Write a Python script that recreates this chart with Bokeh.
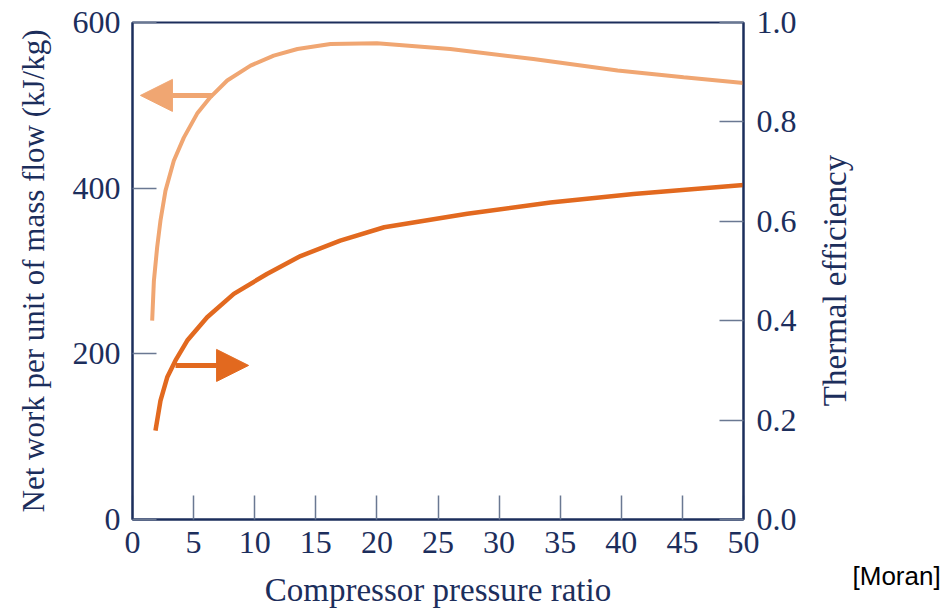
from bokeh.plotting import figure
from bokeh.models import (Range1d, LinearAxis, FixedTicker, PrintfTickFormatter,
                          Arrow, NormalHead)
from bokeh.core.properties import value
from bokeh.layouts import row
from bokeh.embed import file_html
from bokeh.resources import INLINE
import math

# ---- data ----
ratio_work = [1.61, 1.75, 2.02, 2.29, 2.70, 3.38, 4.20, 5.29, 6.38, 7.75, 9.66,
              11.56, 13.5, 16.2, 20.0, 26.0, 32.8, 39.7, 45.1, 50.0]
net_work = [240, 288, 329, 361, 397, 433, 461, 490, 510, 530, 548,
            560, 568, 574, 575, 568, 556, 542, 534, 527]

ratio_eff = [1.88, 2.29, 2.84, 3.52, 4.48, 6.11, 8.29, 11.0, 13.75, 17.0,
             20.6, 27.4, 34.2, 41.0, 50.0]
efficiency = [0.179, 0.239, 0.286, 0.320, 0.360, 0.407, 0.454, 0.494, 0.530, 0.561,
              0.588, 0.615, 0.638, 0.655, 0.673]

x_ticks = [0, 5, 10, 15, 20, 25, 30, 35, 40, 45, 50]
work_ticks = [0, 200, 400, 600]
eff_ticks = [0.0, 0.2, 0.4, 0.6, 0.8, 1.0]

x_title = "Compressor pressure ratio"
work_title = "Net work per unit of mass flow (kJ/kg)"
eff_title = "Thermal efficiency"
source_note = "[Moran]"

# annotation arrows (start on the curve, end at the tip)
work_arrow = dict(x_start=6.55, x_end=0.65, y=512)
eff_arrow = dict(x_start=3.52, x_end=9.5, y=0.31)

LIGHT = "#F0A672"
DARK = "#E2691F"
NAVY = "#1c2e5c"
TICK = "#6a7892"
SERIF = "Liberation Serif"

MAIN_W = 810
SIDE_W = 943 - MAIN_W
H = 611

p = figure(width=MAIN_W, height=H, output_backend="svg", toolbar_location=None,
           x_range=Range1d(0, 50), y_range=Range1d(0, 600),
           min_border_left=132, min_border_right=MAIN_W - 743, min_border_top=22,
           min_border_bottom=92)
p.extra_y_ranges = {"eff": Range1d(0, 1)}
p.frame_align = False

p.xgrid.visible = False
p.ygrid.visible = False
p.background_fill_color = "white"
p.border_fill_color = "white"
p.outline_line_color = NAVY
p.outline_line_width = 2

def style_axis(ax, label_size="33px"):
    ax.axis_line_color = NAVY
    ax.axis_line_width = 2
    ax.major_tick_in = 24
    ax.major_tick_out = 0
    ax.major_tick_line_color = TICK
    ax.major_tick_line_width = 1.5
    ax.minor_tick_line_color = None
    ax.major_label_text_font = SERIF
    ax.major_label_text_font_size = "32px"
    ax.major_label_text_color = NAVY
    ax.axis_label_text_font = SERIF
    ax.axis_label_text_font_size = label_size
    ax.axis_label_text_font_style = "normal"
    ax.axis_label_text_color = NAVY

xa = p.xaxis[0]
style_axis(xa)
xa.ticker = FixedTicker(ticks=x_ticks)
xa.axis_label = x_title
xa.major_label_standoff = 12
xa.axis_label_standoff = 16

ya = p.yaxis[0]
style_axis(ya, "31px")
ya.ticker = FixedTicker(ticks=work_ticks)
ya.axis_label = work_title
ya.major_label_standoff = 12
ya.axis_label_standoff = 19

ra = LinearAxis(y_range_name="eff")
style_axis(ra)
ra.ticker = FixedTicker(ticks=eff_ticks)
ra.formatter = PrintfTickFormatter(format="%.1f")
ra.major_label_standoff = 13
p.add_layout(ra, "right")

p.line(ratio_work, net_work, line_color=LIGHT, line_width=4)
p.line(ratio_eff, efficiency, line_color=DARK, line_width=4.5, y_range_name="eff")

p.add_layout(Arrow(end=NormalHead(size=32, fill_color=LIGHT, line_color=LIGHT),
                   x_start=work_arrow["x_start"], y_start=work_arrow["y"],
                   x_end=work_arrow["x_end"], y_end=work_arrow["y"],
                   line_color=LIGHT, line_width=5))
p.add_layout(Arrow(end=NormalHead(size=32, fill_color=DARK, line_color=DARK),
                   x_start=eff_arrow["x_start"], y_start=eff_arrow["y"],
                   x_end=eff_arrow["x_end"], y_end=eff_arrow["y"],
                   line_color=DARK, line_width=5, y_range_name="eff"))

# side strip (pixel coordinates) holding the right axis title and the source note
s = figure(width=SIDE_W, height=H, output_backend="svg", toolbar_location=None,
           x_range=Range1d(0, SIDE_W), y_range=Range1d(0, H),
           x_axis_location=None, y_axis_location=None,
           min_border_left=0, min_border_right=0, min_border_top=0, min_border_bottom=0)
s.frame_align = False
s.xgrid.visible = False
s.ygrid.visible = False
s.outline_line_color = None
s.background_fill_color = "white"
s.border_fill_color = "white"

s.text(x=[834 - MAIN_W], y=[H - 280], text=[eff_title], angle=math.pi / 2,
       text_align="center", text_baseline="middle",
       text_font=value(SERIF), text_font_size="33px", text_color=NAVY)
s.text(x=[852 - MAIN_W], y=[H - 575], text=[source_note],
       text_align="left", text_baseline="alphabetic",
       text_font=value("Liberation Sans"), text_font_size="26px", text_color="black")

layout = row(p, s, spacing=0)
open("out.html", "w").write(file_html(layout, INLINE))
